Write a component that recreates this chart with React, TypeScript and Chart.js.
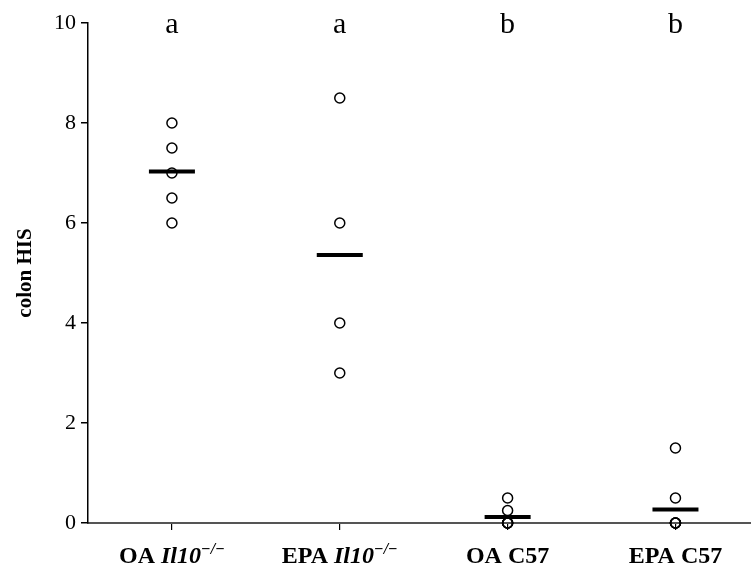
import React, { useEffect, useRef } from 'react';
import { Chart, registerables } from 'chart.js';

Chart.register(...registerables);

// ---- data ----
const categoryPrefixes = ['OA ', 'EPA ', 'OA ', 'EPA '];
const categoryStrains = ['Il10', 'Il10', 'C57', 'C57'];
const strainItalic = [true, true, false, false];
const strainSuperscripts = ['−/−', '−/−', '', ''];
const sigLetters = ['a', 'a', 'b', 'b'];

const oaIl10 = [8, 7.5, 7, 6.5, 6];
const epaIl10 = [8.5, 6, 4, 3];
const oaC57 = [0.5, 0.25, 0, 0, 0, 0];
const epaC57 = [1.5, 0.5, 0, 0, 0, 0];
const groupMeans = [7.03, 5.36, 0.12, 0.27];

const yTicks = [0, 2, 4, 6, 8, 10];
const yTitle = 'colon HIS';

const groups = [oaIl10, epaIl10, oaC57, epaC57];

const SERIF = '"Liberation Serif", "Times New Roman", serif';

const labelsPlugin = {
  id: 'customLabels',
  afterDraw(chart: any) {
    const { ctx } = chart;
    const x = chart.scales.x;
    const y = chart.scales.y;
    ctx.save();
    ctx.fillStyle = '#000';
    ctx.textBaseline = 'alphabetic';
    ctx.textAlign = 'left';
    const base = y.getPixelForValue(0) + 40;
    categoryPrefixes.forEach((prefix, i) => {
      const cx = x.getPixelForValue(i);
      const parts: any[] = [
        { t: prefix, f: `bold 24px ${SERIF}`, dy: 0 },
        { t: categoryStrains[i], f: `${strainItalic[i] ? 'italic ' : ''}bold 24px ${SERIF}`, dy: 0 },
        { t: strainSuperscripts[i], f: `italic bold 16px ${SERIF}`, dy: -9 },
      ];
      let total = 0;
      parts.forEach((p) => {
        ctx.font = p.f;
        p.w = ctx.measureText(p.t).width;
        total += p.w;
      });
      let px = cx - total / 2;
      parts.forEach((p) => {
        ctx.font = p.f;
        ctx.fillText(p.t, px, base + p.dy);
        px += p.w;
      });
    });
    ctx.textAlign = 'center';
    ctx.font = `30px ${SERIF}`;
    const top = y.getPixelForValue(10) + 10;
    sigLetters.forEach((l, i) => {
      ctx.fillText(l, x.getPixelForValue(i), top);
    });
    ctx.restore();
  },
};

export default function App() {
  const ref = useRef<HTMLCanvasElement | null>(null);

  useEffect(() => {
    document.body.style.margin = '0';
    const canvas = ref.current;
    if (!canvas) return;

    const pointData: { x: number; y: number }[] = [];
    groups.forEach((g, i) => g.forEach((v) => pointData.push({ x: i, y: v })));
    const meanData = groupMeans.map((m, i) => ({ x: i, y: m }));

    const chart = new Chart(canvas, {
      type: 'scatter',
      data: {
        datasets: [
          {
            label: 'mean',
            data: meanData,
            pointStyle: 'line',
            pointRadius: 23,
            pointBorderWidth: 4,
            borderColor: '#000',
            backgroundColor: '#000',
            showLine: false,
            clip: false,
          } as any,
          {
            label: 'values',
            data: pointData,
            pointStyle: 'circle',
            pointRadius: 5,
            pointBorderWidth: 1.5,
            borderColor: '#000',
            backgroundColor: 'rgba(255,255,255,0)',
            showLine: false,
            clip: false,
          } as any,
        ],
      },
      options: {
        animation: false,
        responsive: false,
        maintainAspectRatio: false,
        layout: { autoPadding: false, padding: { top: 23, left: 0, right: 0, bottom: 0 } },
        plugins: { legend: { display: false }, tooltip: { enabled: false } },
        scales: {
          x: {
            type: 'linear',
            min: -0.5,
            max: 3.45,
            afterBuildTicks: (scale: any) => {
              scale.ticks = categoryPrefixes.map((_, i) => ({ value: i }));
            },
            afterFit: (scale: any) => {
              scale.height = 51;
            },
            ticks: { display: false },
            grid: {
              display: true,
              drawOnChartArea: false,
              drawTicks: true,
              tickLength: 7,
              color: '#000',
              lineWidth: 1.2,
            },
            border: { display: true, color: '#555', width: 2 },
          },
          y: {
            type: 'linear',
            min: 0,
            max: 10,
            afterBuildTicks: (scale: any) => {
              scale.ticks = yTicks.map((v) => ({ value: v }));
            },
            afterFit: (scale: any) => {
              scale.width = 88;
            },
            ticks: {
              color: '#000',
              font: { family: SERIF, size: 22 },
              padding: 5,
            },
            grid: {
              display: true,
              drawOnChartArea: false,
              drawTicks: true,
              tickLength: 7,
              color: '#000',
              lineWidth: 1.5,
            },
            border: { display: true, color: '#000', width: 1.5 },
            title: {
              display: true,
              text: yTitle,
              color: '#000',
              font: { family: SERIF, size: 21, weight: 'bold' },
              padding: { top: 13, bottom: 0 },
            },
          },
        },
      },
      plugins: [labelsPlugin],
    });

    return () => chart.destroy();
  }, []);

  return (
    <div style={{ width: 751, height: 574 }}>
      <canvas ref={ref} width={751} height={574} style={{ width: 751, height: 574, display: 'block' }} />
    </div>
  );
}
